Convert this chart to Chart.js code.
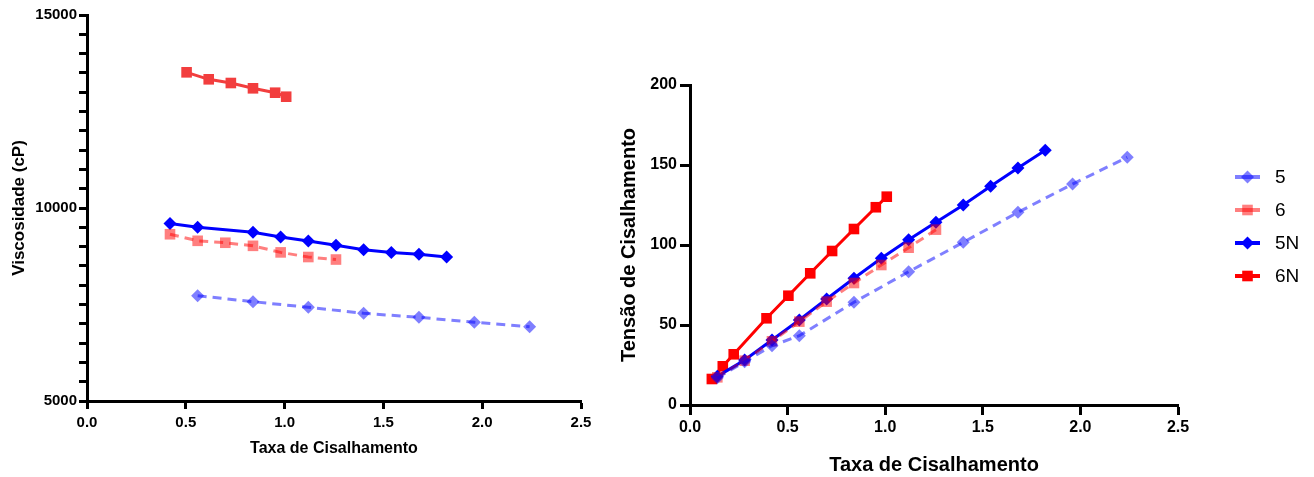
<!DOCTYPE html>
<html>
<head>
<meta charset="utf-8">
<script src="https://cdn.jsdelivr.net/npm/chart.js@4/dist/chart.umd.min.js"></script>
<style>
	html, body { margin: 0; padding: 0; background: #fff; }
	#wrap { position: relative; width: 1314px; height: 477px; }
	.box { position: absolute; top: 0; height: 477px; }
	#left-box { left: 0; width: 600px; }
	#right-box { left: 600px; width: 714px; }
</style>
</head>
<body>
<div id="wrap">
	<div class="box" id="left-box"><canvas id="viscosity"></canvas></div>
	<div class="box" id="right-box"><canvas id="stress"></canvas></div>
</div>
<script>
// viscosity (cP) vs shear rate
const visc5Rate = [0.56, 0.84, 1.12, 1.40, 1.68, 1.96, 2.24];
const visc5 = [7728, 7573, 7427, 7272, 7168, 7039, 6925];
const visc6Rate = [0.42, 0.56, 0.70, 0.84, 0.98, 1.12, 1.26];
const visc6 = [9320, 9150, 9100, 9020, 8850, 8730, 8665];
const visc5NRate = [0.42, 0.56, 0.84, 0.98, 1.12, 1.26, 1.40, 1.54, 1.68, 1.82];
const visc5N = [9600, 9500, 9370, 9250, 9145, 9035, 8920, 8845, 8800, 8730];
const visc6NRate = [0.504, 0.616, 0.728, 0.84, 0.952, 1.008];
const visc6N = [13515, 13334, 13238, 13101, 12987, 12883];

// shear stress vs shear rate
const stress5Rate = [0.14, 0.28, 0.42, 0.56, 0.84, 1.12, 1.40, 1.68, 1.96, 2.24];
const stress5 = [17, 27, 37, 43.3, 64.2, 83.3, 101.7, 120.4, 138.1, 154.8];
const stress6Rate = [0.14, 0.28, 0.42, 0.56, 0.70, 0.84, 0.98, 1.12, 1.26];
const stress6 = [17.3, 27.7, 39.8, 52.1, 64.6, 76.25, 87.5, 98.3, 109.6];
const stress5NRate = [0.14, 0.28, 0.42, 0.56, 0.70, 0.84, 0.98, 1.12, 1.26, 1.40, 1.54, 1.68, 1.82];
const stress5N = [17.9, 28.1, 40.6, 53.1, 66.25, 79.2, 91.7, 103.3, 114.2, 125, 136.7, 148.1, 159.2];
const stress6NRate = [0.112, 0.168, 0.224, 0.392, 0.504, 0.616, 0.728, 0.84, 0.952, 1.008];
const stress6N = [16.25, 24.2, 31.7, 54.2, 68.3, 82.3, 96.25, 110, 123.6, 130.2];

const seriesNames = ['5', '6', '5N', '6N'];
const rateTicks = [0, 0.5, 1.0, 1.5, 2.0, 2.5];
const viscTicks = [5000, 10000, 15000];
const stressTicks = [0, 50, 100, 150, 200];

const FONT = "'Liberation Sans', Arial, sans-serif";

function points(xs, ys) {
	return xs.map((x, i) => ({ x: x, y: ys[i] }));
}

// one style per series: 5, 6, 5N, 6N
function styles(red6N) {
	return [
		{ color: 'rgba(0, 0, 255, 0.5)', dash: [9, 6], pointStyle: 'rectRot', radius: 6.5 },
		{ color: 'rgba(255, 0, 0, 0.5)', dash: [9, 6], pointStyle: 'rect', radius: 7.5 },
		{ color: 'rgb(0, 0, 255)', dash: [], pointStyle: 'rectRot', radius: 6.5 },
		{ color: red6N, dash: [], pointStyle: 'rect', radius: 7.5 },
	];
}

function makeDataset(label, data, st) {
	return {
		label: label,
		data: data,
		showLine: true,
		borderColor: st.color,
		backgroundColor: st.color,
		borderWidth: 3,
		borderDash: st.dash,
		pointStyle: st.pointStyle,
		pointRadius: st.radius,
		pointBorderWidth: 0,
		pointHoverRadius: st.radius,
		tension: 0,
	};
}

function axis(opts) {
	return {
		type: 'linear',
		min: opts.min,
		max: opts.max,
		afterFit: (s) => {
			if (s.isHorizontal()) s.height = opts.size;
			else s.width = opts.size;
		},
		afterBuildTicks: (s) => {
			s.ticks = opts.values.map((v) => ({ value: v }));
		},
		border: { display: true, color: '#000', width: 3 },
		grid: { display: true, drawOnChartArea: false, drawTicks: true, tickLength: opts.tickLength, tickWidth: 3, tickColor: '#000' },
		ticks: {
			autoSkip: false,
			maxRotation: 0,
			padding: opts.tickPad,
			color: '#000',
			font: { family: FONT, size: opts.tickSize, weight: 'bold' },
			callback: opts.format,
		},
		title: {
			display: true,
			text: opts.title,
			color: '#000',
			font: { family: FONT, size: opts.titleSize, weight: 'bold' },
			padding: opts.titlePad,
		},
	};
}

// line + marker legend drawn beside the plot
const sideLegend = {
	id: 'sideLegend',
	afterDraw(chart, args, o) {
		if (!o.display) return;
		const ctx = chart.ctx;
		ctx.save();
		chart.data.datasets.forEach((ds, i) => {
			const y = o.top + i * o.gap;
			ctx.strokeStyle = ds.borderColor;
			ctx.lineWidth = 4;
			ctx.setLineDash([]);
			ctx.beginPath();
			ctx.moveTo(o.left, y);
			ctx.lineTo(o.left + o.lineLen, y);
			ctx.stroke();
			ctx.fillStyle = ds.backgroundColor;
			Chart.helpers.drawPoint(ctx, { pointStyle: ds.pointStyle, radius: ds.pointRadius, borderWidth: 0, rotation: 0 }, o.left + o.lineLen / 2, y);
			ctx.fillStyle = '#000';
			ctx.font = `${o.fontSize}px ${FONT}`;
			ctx.textBaseline = 'middle';
			ctx.fillText(ds.label, o.left + o.lineLen + 15, y + 1);
		});
		ctx.restore();
	},
};

function buildChart(id, datasets, scales, padding, legend) {
	return new Chart(document.getElementById(id), {
		type: 'scatter',
		data: { datasets: datasets },
		options: {
			responsive: true,
			maintainAspectRatio: false,
			animation: false,
			layout: { padding: padding },
			plugins: {
				legend: { display: false },
				tooltip: { enabled: false },
				sideLegend: legend,
			},
			scales: scales,
		},
		plugins: [sideLegend],
	});
}

const leftStyles = styles('rgb(242, 62, 62)');
const rightStyles = styles('rgb(255, 0, 0)');

// minor ticks every 500 on the viscosity axis
const viscMinor = [];
for (let v = viscTicks[0]; v <= viscTicks[viscTicks.length - 1]; v += 500) viscMinor.push(v);

buildChart(
	'viscosity',
	[
		makeDataset(seriesNames[0], points(visc5Rate, visc5), leftStyles[0]),
		makeDataset(seriesNames[1], points(visc6Rate, visc6), leftStyles[1]),
		makeDataset(seriesNames[2], points(visc5NRate, visc5N), leftStyles[2]),
		makeDataset(seriesNames[3], points(visc6NRate, visc6N), leftStyles[3]),
	],
	{
		x: axis({
			min: 0, max: 2.5, values: rateTicks, size: 76, tickLength: 8, tickPad: 5, tickSize: 15,
			format: (v) => v.toFixed(1), title: 'Taxa de Cisalhamento', titleSize: 16, titlePad: { top: 0, bottom: 19 },
		}),
		y: axis({
			min: 5000, max: 15000, values: viscMinor, size: 87, tickLength: 8, tickPad: 2, tickSize: 15,
			format: (v) => (viscTicks.includes(v) ? String(v) : ''), title: 'Viscosidade (cP)', titleSize: 17, titlePad: { top: 9, bottom: 0 },
		}),
	},
	{ left: 0, top: 15, right: 19, bottom: 0 },
	{ display: false }
);

buildChart(
	'stress',
	[
		makeDataset(seriesNames[0], points(stress5Rate, stress5), rightStyles[0]),
		makeDataset(seriesNames[1], points(stress6Rate, stress6), rightStyles[1]),
		makeDataset(seriesNames[2], points(stress5NRate, stress5N), rightStyles[2]),
		makeDataset(seriesNames[3], points(stress6NRate, stress6N), rightStyles[3]),
	],
	{
		x: axis({
			min: 0, max: 2.5, values: rateTicks, size: 72, tickLength: 10, tickPad: 3, tickSize: 16,
			format: (v) => v.toFixed(1), title: 'Taxa de Cisalhamento', titleSize: 20, titlePad: { top: 0, bottom: 0 },
		}),
		y: axis({
			min: 0, max: 200, values: stressTicks, size: 90, tickLength: 10, tickPad: 3, tickSize: 16,
			format: (v) => String(v), title: 'Tensão de Cisalhamento', titleSize: 20, titlePad: { top: 17, bottom: 0 },
		}),
	},
	{ left: 0, top: 85, right: 136, bottom: 0 },
	{ display: true, left: 635, top: 177, gap: 33, lineLen: 25, fontSize: 19 }
);
</script>
</body>
</html>
